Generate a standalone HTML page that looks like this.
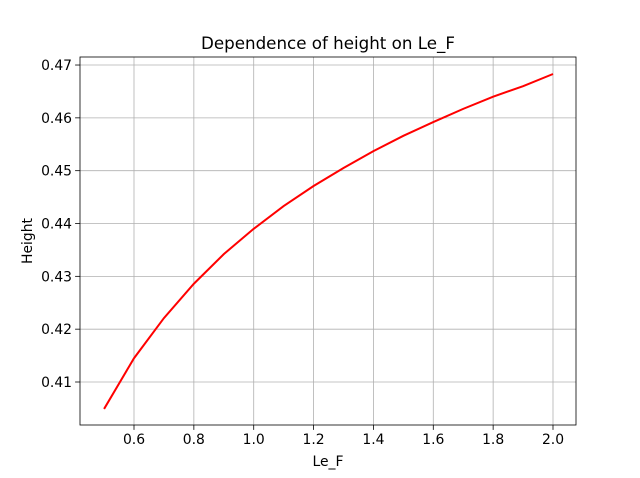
<!DOCTYPE html>
<html><head><meta charset="utf-8">
<style>body{margin:0;background:#fff;}svg{display:block;font-family:"DejaVu Sans","Liberation Sans",sans-serif;}</style>
</head><body>
<svg id="chart" width="640" height="478"></svg>
<script>
const xValues=[0.5,0.6,0.7,0.8,0.9,1.0,1.1,1.2,1.3,1.4,1.5,1.6,1.7,1.8,1.9,2.0];
const heightValues=[0.4049,0.4145,0.4221,0.4286,0.4342,0.4390,0.4433,0.4471,0.4505,0.4537,0.4566,0.4592,0.4617,0.4640,0.4660,0.4683];
const xTicks=[0.6,0.8,1.0,1.2,1.4,1.6,1.8,2.0];
const yTicks=[0.41,0.42,0.43,0.44,0.45,0.46,0.47];
const L=80,R=576,T=57,B=425;
const xs=v=>134+(v-0.6)/0.2*59.857;
const ys=v=>382-(v-0.41)/0.01*52.83;
const svg=document.getElementById('chart');
const NS='http://www.w3.org/2000/svg';
function mk(tag,attrs,parent){const e=document.createElementNS(NS,tag);for(const k in attrs)e.setAttribute(k,attrs[k]);(parent||svg).appendChild(e);return e;}
const grid=mk('g',{});


xTicks.forEach(t=>{const x=xs(t);
 mk('line',{x1:x,x2:x,y1:T,y2:B,stroke:'#b0b0b0','stroke-width':0.8},grid);
 mk('line',{x1:x,x2:x,y1:B,y2:B+4.9,stroke:'#000','stroke-width':0.8});
 const tx=mk('text',{x:x,y:B+19,'font-size':13.9,'text-anchor':'middle'});tx.textContent=t.toFixed(1);
 
 });
yTicks.forEach(t=>{const y=ys(t);
 mk('line',{x1:L,x2:R,y1:y,y2:y,stroke:'#b0b0b0','stroke-width':0.8},grid);
 mk('line',{x1:L-4.9,x2:L,y1:y,y2:y,stroke:'#000','stroke-width':0.8});
 const tx=mk('text',{x:L-8,y:y+5,'font-size':13.9,'text-anchor':'end'});tx.textContent=t.toFixed(2);
 
 });
const line=mk('polyline',{points:xValues.map((v,i)=>xs(v)+','+ys(heightValues[i])).join(' '),fill:'none',stroke:'#ff0000','stroke-width':2});


const frame=mk('rect',{x:L,y:T,width:R-L,height:B-T,fill:'none',stroke:'#000','stroke-width':0.8});


const title=mk('text',{x:(L+R)/2,y:T-8,'font-size':16.7,'text-anchor':'middle'});title.textContent='Dependence of height on Le_F';


const xl=mk('text',{x:(L+R)/2,y:466,'font-size':13.9,'text-anchor':'middle'});xl.textContent='Le_F';


const yl=mk('text',{x:32,y:(T+B)/2,'font-size':13.9,'text-anchor':'middle',transform:'rotate(-90 32 '+((T+B)/2)+')'});yl.textContent='Height';


</script>
</body></html>
